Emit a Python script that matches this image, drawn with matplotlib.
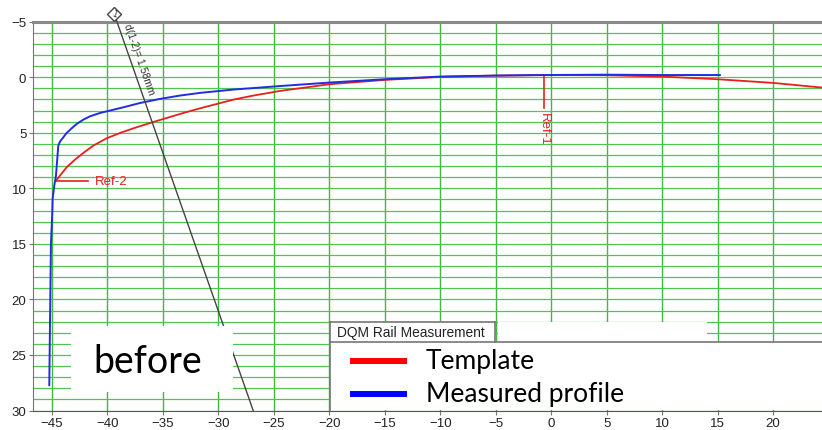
import matplotlib
matplotlib.use('Agg')
import matplotlib.pyplot as plt
from matplotlib.patches import Rectangle
from matplotlib.lines import Line2D
from matplotlib.ticker import MultipleLocator

# measured profile (blue)
meas_x = [-45.22, -45.19, -45.13, -45.07, -44.95, -44.92, -44.77, -44.62, -44.50, -44.41,
          -44.26, -43.96, -43.66, -43.21, -42.76, -42.16, -41.56, -40.66, -39.76, -38.56,
          -37.05, -35.25, -33.45, -31.65, -28.65, -24.4, -20.0, -15.0, -10.0, -5.0,
          -0.7, 5.0, 10.0, 15.2]
meas_y = [27.72, 25.08, 19.97, 15.0, 12.17, 10.96, 9.76, 8.86, 7.36, 6.16,
          5.80, 5.41, 5.02, 4.60, 4.21, 3.82, 3.52, 3.22, 3.00, 2.71,
          2.32, 1.95, 1.65, 1.41, 1.11, 0.79, 0.48, 0.18, -0.06, -0.15,
          -0.2, -0.23, -0.2, -0.2]

# template (red)
tmpl_x = [-44.62, -44.26, -43.66, -42.91, -42.16, -41.26, -40.06, -38.86, -37.65, -36.15,
          -34.65, -33.15, -31.65, -30.15, -28.65, -26.84, -24.4, -20.0, -15.0, -10.0,
          -5.0, 0.0, 5.0, 10.0, 15.0, 20.0, 24.4]
tmpl_y = [9.31, 8.86, 8.11, 7.42, 6.82, 6.16, 5.50, 5.02, 4.60, 4.12,
          3.67, 3.22, 2.80, 2.41, 2.02, 1.65, 1.23, 0.63, 0.24, -0.03,
          -0.15, -0.2, -0.18, -0.06, 0.18, 0.51, 0.93]

# reference marks and distance line
ref1 = (-0.65, -0.2, 2.75)      # x, y top, y bottom
ref2 = (-44.6, -41.7, 9.35)     # x start, x end, y
dist_x = [-39.37, -26.85]
dist_y = [-5.7, 30.0]
dist_label = 'd(1-2)= 1.58mm'

xticks = list(range(-45, 21, 5))
yticks = list(range(-5, 31, 5))

W, H = 822, 431
fig = plt.figure(figsize=(W / 100, H / 100), dpi=100)
fig.patch.set_facecolor('white')


def fx(px):
    return px / W


def fy(py):
    return 1 - py / H


ax = fig.add_axes([fx(33.3), fy(411.5), 1 - fx(33.3), fy(22.7) - fy(411.5)])
ax.set_xlim(-46.66, 24.4)
ax.set_ylim(30, -5)

ax.set_xticks(xticks)
ax.set_yticks(yticks)
ax.yaxis.set_minor_locator(MultipleLocator(1))
ax.tick_params(which='minor', length=0)
ax.tick_params(which='major', length=3, color='#777777', labelsize=9.5, pad=2,
               labelcolor='#222222')
for lab in ax.get_xticklabels() + ax.get_yticklabels():
    lab.set_family(['Liberation Sans', 'DejaVu Sans'])

ax.grid(True, axis='x', which='major', color='#3dbb3d', lw=1.0)
ax.grid(True, axis='y', which='both', color='#52c452', lw=0.9)
ax.set_axisbelow(True)

ax.spines['right'].set_visible(False)
ax.spines['top'].set_color('#8a8a8a')
ax.spines['top'].set_linewidth(2.2)
ax.spines['left'].set_color('#777777')
ax.spines['bottom'].set_color('#555555')

ax.plot(tmpl_x, tmpl_y, color='#e8201c', lw=1.3, zorder=3)
ax.plot(meas_x, meas_y, color='#1f2fe0', lw=1.4, zorder=4)

# Ref-1
ax.plot([ref1[0], ref1[0]], [ref1[1], ref1[2]], color='#e8201c', lw=1.2, zorder=3)
ax.text(ref1[0], ref1[2] + 0.4, 'Ref-1', color='#e8201c', rotation=-90,
        ha='center', va='top', fontsize=9.5, family=['Liberation Sans', 'DejaVu Sans'])
# Ref-2
ax.plot([ref2[0], ref2[1]], [ref2[2], ref2[2]], color='#e8201c', lw=1.2, zorder=3)
ax.text(ref2[1] + 0.6, ref2[2] - 0.05, 'Ref-2', color='#e8201c', ha='left', va='center',
        fontsize=9.5, family=['Liberation Sans', 'DejaVu Sans'])

# distance line with marker
ax.plot(dist_x, dist_y, color='#444444', lw=1.0, clip_on=False, zorder=5)
ax.plot(dist_x[0], dist_y[0], marker='D', ms=7, mfc='white', mec='#444444',
        mew=1.0, clip_on=False, zorder=6)
ax.text(dist_x[0], dist_y[0], '1', fontsize=6, rotation=-20, ha='center', va='center',
        color='#333333', clip_on=False, zorder=7)
ax.text(-37.15, -1.65, dist_label, rotation=-70.6, rotation_mode='anchor',
        ha='center', va='center', fontsize=7.5, color='#333333',
        family=['Liberation Sans', 'DejaVu Sans'], zorder=6)

# overlay boxes (figure pixels)
def box(x0, y0, x1, y1, ec='none', lw=0):
    fig.add_artist(Rectangle((fx(x0), fy(y1)), fx(x1) - fx(x0), fy(y0) - fy(y1),
                             transform=fig.transFigure, facecolor='white',
                             edgecolor=ec, lw=lw, zorder=10))


def hline(x0, x1, y, color='#777777', lw=1.2):
    fig.add_artist(Line2D([fx(x0), fx(x1)], [fy(y), fy(y)], transform=fig.transFigure,
                          color=color, lw=lw, zorder=11))


def vline(x, y0, y1, color='#777777', lw=1.2):
    fig.add_artist(Line2D([fx(x), fx(x)], [fy(y0), fy(y1)], transform=fig.transFigure,
                          color=color, lw=lw, zorder=11))


# "before" label
box(71, 327, 233, 393)
fig.text(fx(148), fy(362), 'before', fontsize=27, ha='center', va='center',
         family=['Lato', 'DejaVu Sans'], color='black', zorder=12)

# legend panel
box(329.5, 322.5, 495, 343)
box(498, 322.5, 707, 343)
box(329.5, 343, 822, 410.5)
hline(329.5, 495, 322.7)
vline(329.5, 322.7, 411)
vline(495, 322.7, 343)
hline(329.5, 822, 343.3)
fig.text(fx(337), fy(333.5), 'DQM Rail Measurement', fontsize=9.9, ha='left', va='center',
         family=['Liberation Sans', 'DejaVu Sans'], color='#222222', zorder=12)
fig.add_artist(Line2D([fx(350), fx(407)], [fy(361.7), fy(361.7)], transform=fig.transFigure,
                      color='#ff0000', lw=4.3, solid_capstyle='butt', zorder=12))
fig.add_artist(Line2D([fx(350), fx(407)], [fy(395), fy(395)], transform=fig.transFigure,
                      color='#0000ff', lw=4.3, solid_capstyle='butt', zorder=12))
fig.text(fx(426), fy(361), 'Template', fontsize=19, ha='left', va='center',
         family=['Lato', 'DejaVu Sans'], color='black', zorder=12)
fig.text(fx(426), fy(395), 'Measured profile', fontsize=19, ha='left', va='center',
         family=['Lato', 'DejaVu Sans'], color='black', zorder=12)

fig.savefig('out.png', dpi=100)
